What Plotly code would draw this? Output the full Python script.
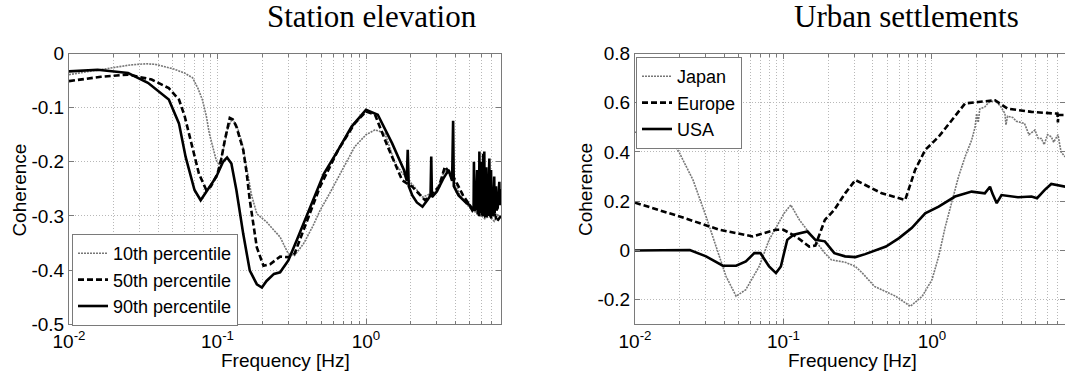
import plotly.graph_objects as go

# ---------------- data: Station elevation ----------------
p10_f = [0.010, 0.014, 0.020, 0.026, 0.033, 0.038, 0.050, 0.060, 0.068, 0.074, 0.079, 0.084, 0.088,
         0.093, 0.098, 0.103, 0.110, 0.117, 0.125, 0.135, 0.148, 0.157, 0.169, 0.184, 0.214, 0.264,
         0.300, 0.330, 0.380, 0.440, 0.490, 0.570, 0.650, 0.750, 0.840, 1.000, 1.150, 1.340, 1.570,
         1.840, 2.100, 2.400, 2.950, 3.400, 3.900, 4.300, 4.700, 5.200, 5.800, 6.300, 6.800, 7.300,
         7.700, 8.100]
p10_v = [-0.039, -0.033, -0.026, -0.021, -0.019, -0.020, -0.028, -0.036, -0.045, -0.065, -0.085,
         -0.115, -0.147, -0.175, -0.197, -0.206, -0.175, -0.140, -0.121, -0.133, -0.170, -0.210,
         -0.260, -0.296, -0.311, -0.339, -0.370, -0.373, -0.351, -0.318, -0.290, -0.258, -0.228,
         -0.198, -0.172, -0.150, -0.141, -0.147, -0.203, -0.228, -0.245, -0.265, -0.255, -0.215,
         -0.234, -0.262, -0.277, -0.290, -0.296, -0.305, -0.300, -0.310, -0.298, -0.302]

p50_f = [0.010, 0.0164, 0.025, 0.036, 0.047, 0.055, 0.060, 0.064, 0.070, 0.075, 0.084, 0.090, 0.100,
         0.106, 0.112, 0.121, 0.127, 0.134, 0.149, 0.157, 0.165, 0.175, 0.184, 0.204, 0.226, 0.264,
         0.300, 0.330, 0.380, 0.490, 0.650, 0.840, 1.000, 1.150, 1.400, 1.750, 2.050, 2.500, 3.100,
         3.400, 4.000, 4.500, 4.900, 5.200, 5.500, 5.800, 6.100, 6.400, 6.700, 7.000, 7.300, 7.600,
         8.100]
p50_v = [-0.051, -0.043, -0.039, -0.048, -0.064, -0.085, -0.115, -0.147, -0.190, -0.222, -0.252,
         -0.246, -0.222, -0.195, -0.160, -0.119, -0.122, -0.135, -0.178, -0.220, -0.271, -0.320,
         -0.358, -0.392, -0.389, -0.375, -0.376, -0.370, -0.327, -0.246, -0.178, -0.129, -0.107,
         -0.113, -0.172, -0.234, -0.246, -0.271, -0.246, -0.209, -0.234, -0.262, -0.277, -0.290,
         -0.280, -0.300, -0.285, -0.305, -0.290, -0.305, -0.290, -0.310, -0.300]

p90_f = [0.010, 0.0156, 0.025, 0.034, 0.047, 0.055, 0.061, 0.070, 0.077, 0.086, 0.098, 0.109, 0.116,
         0.124, 0.134, 0.149, 0.165, 0.184, 0.199, 0.214, 0.240, 0.264, 0.300, 0.340, 0.420, 0.520,
         0.650, 0.800, 1.000, 1.200, 1.500, 1.800, 1.880, 1.910, 1.940, 2.050, 2.200, 2.400, 2.600,
         2.720, 2.750, 2.780, 3.000, 3.300, 3.600, 3.800, 3.860, 3.900, 4.200, 4.700, 5.000, 5.300,
         5.330, 5.380, 5.500, 5.600, 5.650, 5.780, 5.800, 5.840, 5.950, 6.000, 6.100, 6.150, 6.200,
         6.260, 6.300, 6.450, 6.500, 6.600, 6.770, 6.820, 6.950, 7.000, 7.150, 7.300, 7.350, 7.500,
         7.550, 7.700, 7.900, 7.950, 8.100]
p90_v = [-0.033, -0.030, -0.036, -0.054, -0.085, -0.129, -0.191, -0.252, -0.271, -0.252, -0.228,
         -0.200, -0.192, -0.203, -0.252, -0.333, -0.401, -0.426, -0.432, -0.420, -0.407, -0.404,
         -0.382, -0.346, -0.283, -0.222, -0.178, -0.135, -0.104, -0.113, -0.166, -0.215, -0.235,
         -0.178, -0.245, -0.262, -0.275, -0.283, -0.270, -0.262, -0.190, -0.265, -0.255, -0.232,
         -0.215, -0.235, -0.124, -0.245, -0.262, -0.275, -0.280, -0.290, -0.200, -0.290, -0.285,
         -0.215, -0.295, -0.295, -0.181, -0.295, -0.200, -0.290, -0.300, -0.185, -0.295, -0.181,
         -0.300, -0.210, -0.285, -0.300, -0.194, -0.300, -0.215, -0.290, -0.300, -0.227, -0.295,
         -0.245, -0.290, -0.285, -0.237, -0.280, -0.250]

# ---------------- data: Urban settlements ----------------
jp_f = [0.010, 0.0118, 0.0140, 0.0163, 0.0200, 0.0246, 0.0301, 0.0352, 0.041, 0.048, 0.0558, 0.0686,
        0.080, 0.101, 0.112, 0.128, 0.156, 0.190, 0.210, 0.260, 0.305, 0.340, 0.410, 0.570, 0.716,
        0.860, 1.000, 1.110, 1.230, 1.360, 1.510, 1.670, 1.850, 1.950, 2.000, 2.050, 2.100, 2.270,
        2.400, 2.660, 2.900, 3.100, 3.150, 3.230, 3.500, 3.700, 4.200, 4.500, 4.930, 5.200, 5.450,
        5.700, 6.000, 6.360, 6.600, 7.060, 7.400, 7.900]
jp_v = [0.480, 0.482, 0.510, 0.482, 0.394, 0.286, 0.138, 0.016, -0.105, -0.186, -0.159, -0.065,
        0.043, 0.151, 0.185, 0.124, 0.057, -0.011, -0.038, -0.048, -0.065, -0.092, -0.146, -0.186,
        -0.227, -0.186, -0.119, -0.024, 0.097, 0.192, 0.300, 0.380, 0.448, 0.500, 0.556, 0.520,
        0.575, 0.583, 0.600, 0.610, 0.585, 0.556, 0.510, 0.545, 0.540, 0.525, 0.516, 0.470, 0.489,
        0.455, 0.455, 0.430, 0.470, 0.462, 0.440, 0.470, 0.400, 0.380]

eu_f = [0.010, 0.020, 0.037, 0.062, 0.089, 0.100, 0.121, 0.149, 0.164, 0.190, 0.220, 0.260, 0.305,
        0.460, 0.660, 0.770, 0.900, 1.110, 1.360, 1.670, 2.050, 2.660, 3.230, 4.680, 6.760, 7.000,
        7.050, 7.100, 7.900]
eu_v = [0.194, 0.138, 0.084, 0.057, 0.084, 0.084, 0.057, 0.016, 0.020, 0.124, 0.165, 0.232, 0.286,
        0.232, 0.205, 0.327, 0.408, 0.462, 0.529, 0.597, 0.603, 0.610, 0.576, 0.563, 0.556, 0.556,
        0.520, 0.550, 0.550]

us_f = [0.010, 0.0234, 0.0301, 0.039, 0.048, 0.0558, 0.0636, 0.070, 0.080, 0.089, 0.096, 0.106,
        0.117, 0.130, 0.145, 0.164, 0.190, 0.220, 0.260, 0.305, 0.355, 0.490, 0.600, 0.730, 0.900,
        1.110, 1.430, 1.850, 2.270, 2.460, 2.550, 2.730, 2.940, 3.800, 4.680, 5.100, 5.750, 6.360,
        7.900]
us_v = [0.000, 0.002, -0.024, -0.062, -0.062, -0.045, -0.011, -0.011, -0.065, -0.092, -0.065, 0.043,
        0.064, 0.070, 0.077, 0.043, 0.037, -0.011, -0.024, -0.027, -0.015, 0.016, 0.050, 0.091,
        0.151, 0.178, 0.219, 0.239, 0.232, 0.259, 0.232, 0.192, 0.225, 0.216, 0.219, 0.212, 0.246,
        0.270, 0.259]

left_names = ["10th percentile", "50th percentile", "90th percentile"]
right_names = ["Japan", "Europe", "USA"]

x_tickvals = [0.01, 0.1, 1]
x_ticktext = ["10<sup>-2</sup>", "10<sup>-1</sup>", "10<sup>0</sup>"]
x_minor = [m * 10 ** e for e in (-2, -1, 0) for m in range(2, 10)]

yl_tickvals = [-0.5, -0.4, -0.3, -0.2, -0.1, 0]
yl_ticktext = ["-0.5", "-0.4", "-0.3", "-0.2", "-0.1", "0"]
yr_tickvals = [-0.2, 0, 0.2, 0.4, 0.6, 0.8]
yr_ticktext = ["-0.2", "0", "0.2", "0.4", "0.6", "0.8"]

# ---------------- figure ----------------
W, H = 1065, 379
FONT = "Liberation Sans"
FS = 19
LFS = 18
GRAY_DOT = dict(color="#777777", width=1.6, dash="2px,1px")
DASHED = dict(color="black", width=2.6, dash="6px,3px")
SOLID = dict(color="black", width=2.6)

fig = go.Figure()
fig.add_trace(go.Scatter(x=p10_f, y=p10_v, mode="lines", line=GRAY_DOT, name=left_names[0],
                         xaxis="x", yaxis="y", legend="legend"))
fig.add_trace(go.Scatter(x=p50_f, y=p50_v, mode="lines", line=DASHED, name=left_names[1],
                         xaxis="x", yaxis="y", legend="legend"))
fig.add_trace(go.Scatter(x=p90_f, y=p90_v, mode="lines", line=SOLID, name=left_names[2],
                         xaxis="x", yaxis="y", legend="legend"))
fig.add_trace(go.Scatter(x=jp_f, y=jp_v, mode="lines", line=GRAY_DOT, name=right_names[0],
                         xaxis="x2", yaxis="y2", legend="legend2"))
fig.add_trace(go.Scatter(x=eu_f, y=eu_v, mode="lines", line=DASHED, name=right_names[1],
                         xaxis="x2", yaxis="y2", legend="legend2"))
fig.add_trace(go.Scatter(x=us_f, y=us_v, mode="lines", line=SOLID, name=right_names[2],
                         xaxis="x2", yaxis="y2", legend="legend2"))

ydom = [1 - 324.3 / H, 1 - 53.5 / H]
xdom_l = [69 / W, 501 / W]
xdom_r = [635 / W, 1.0]

AXC = "#7a7a7a"
GRIDC = "#b8b8b8"


def xaxis_cfg(dom, anchor, rng):
    return dict(domain=dom, anchor=anchor, type="log", range=rng,
                tickvals=x_tickvals, ticktext=x_ticktext,
                showline=True, linecolor=AXC, linewidth=1, mirror="ticks",
                ticks="inside", ticklen=5, tickcolor=AXC, ticklabelstandoff=0,
                showgrid=True, gridcolor=GRIDC, griddash="1px,2px", gridwidth=1,
                minor=dict(tickvals=x_minor, showgrid=True, gridcolor=GRIDC, griddash="1px,2px",
                           ticks="inside", ticklen=3, tickcolor=AXC),
                zeroline=False, automargin=False,
                tickfont=dict(family=FONT, size=FS, color="black"))


def yaxis_cfg(anchor, rng, tv, tt):
    return dict(domain=ydom, anchor=anchor, range=rng, tickvals=tv, ticktext=tt,
                showline=True, linecolor=AXC, linewidth=1, mirror="ticks",
                ticks="inside", ticklen=5, tickcolor=AXC,
                showgrid=True, gridcolor=GRIDC, griddash="1px,2px", gridwidth=1,
                zeroline=False, automargin=False,
                tickfont=dict(family=FONT, size=FS, color="black"))


fig.update_layout(
    width=W, height=H,
    margin=dict(l=0, r=0, t=0, b=0),
    paper_bgcolor="white", plot_bgcolor="white",
    xaxis=xaxis_cfg(xdom_l, "y", [-2, 0.909]),
    yaxis=yaxis_cfg("x", [-0.5, 0], yl_tickvals, yl_ticktext),
    xaxis2=xaxis_cfg(xdom_r, "y2", [-2, 0.896]),
    yaxis2=yaxis_cfg("x2", [-0.3, 0.8], yr_tickvals, yr_ticktext),
    legend=dict(x=72 / W, y=1 - 326 / H, xanchor="left", yanchor="bottom",
                bgcolor="white", bordercolor=AXC, borderwidth=1,
                font=dict(family=FONT, size=LFS, color="black"),
                itemwidth=30, tracegroupgap=0),
    legend2=dict(x=636 / W, y=1 - 57 / H, xanchor="left", yanchor="top",
                 bgcolor="white", bordercolor=AXC, borderwidth=1,
                 font=dict(family=FONT, size=LFS, color="black"),
                 itemwidth=30, tracegroupgap=0),
    showlegend=True,
)

ann_font = dict(family=FONT, size=FS, color="black")
title_font = dict(family="Liberation Serif", size=31, color="black")
annotations = [
    dict(text="Station elevation", x=372 / W, y=1 - 16 / H, xref="paper", yref="paper",
         xanchor="center", yanchor="middle", showarrow=False, font=title_font),
    dict(text="Urban settlements", x=906 / W, y=1 - 16 / H, xref="paper", yref="paper",
         xanchor="center", yanchor="middle", showarrow=False, font=title_font),
    dict(text="Frequency [Hz]", x=285 / W, y=1 - 360 / H, xref="paper", yref="paper",
         xanchor="center", yanchor="middle", showarrow=False, font=ann_font),
    dict(text="Frequency [Hz]", x=852 / W, y=1 - 360 / H, xref="paper", yref="paper",
         xanchor="center", yanchor="middle", showarrow=False, font=ann_font),
    dict(text="Coherence", x=18.6 / W, y=1 - 190 / H, xref="paper", yref="paper",
         xanchor="center", yanchor="middle", textangle=-90, showarrow=False, font=ann_font),
    dict(text="Coherence", x=585 / W, y=1 - 190 / H, xref="paper", yref="paper",
         xanchor="center", yanchor="middle", textangle=-90, showarrow=False, font=ann_font),
]
fig.update_layout(annotations=annotations)

fig.write_html("out.html", config={"displayModeBar": False},
               post_script="document.body.style.margin='0';document.body.style.padding='0';")
